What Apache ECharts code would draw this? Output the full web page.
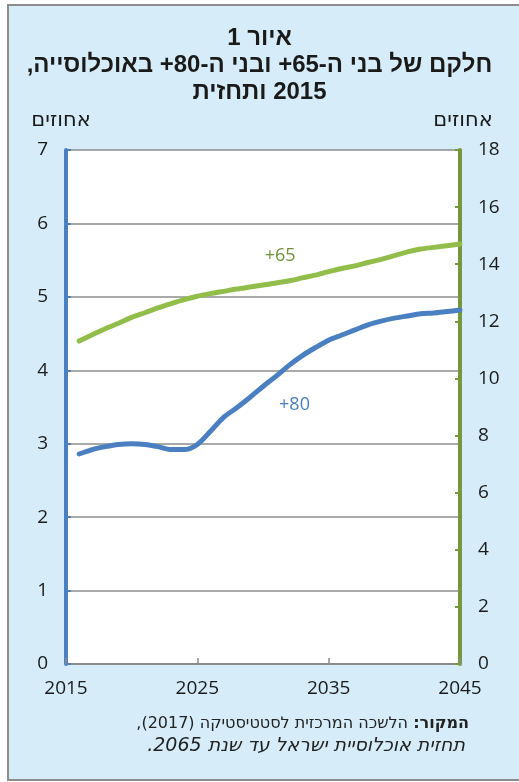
<!DOCTYPE html>
<html dir="rtl">
<head>
<meta charset="utf-8">
<script src="https://cdn.jsdelivr.net/npm/echarts@6/dist/echarts.min.js"></script>
<style>
  html, body { margin: 0; padding: 0; background: #ffffff; }
  #chart { width: 519px; height: 782px; }
</style>
</head>
<body>
<div id="chart"></div>
<script>
// שנים
const years = [2016, 2017, 2018, 2019, 2020, 2021, 2022, 2023, 2024, 2025,
  2026, 2027, 2028, 2029, 2030, 2031, 2032, 2033, 2034, 2035,
  2036, 2037, 2038, 2039, 2040, 2041, 2042, 2043, 2044, 2045];
// בני 80+ (ציר שמאלי, אחוזים)
const share80 = [2.86, 2.92, 2.96, 2.99, 3.00, 2.99, 2.96, 2.92, 2.92, 2.99,
  3.17, 3.36, 3.49, 3.63, 3.78, 3.92, 4.07, 4.20, 4.31, 4.41,
  4.48, 4.55, 4.62, 4.67, 4.71, 4.74, 4.77, 4.78, 4.80, 4.82];
// בני 65+ (ציר ימני, אחוזים)
const share65 = [11.31, 11.53, 11.74, 11.93, 12.14, 12.30, 12.47, 12.62, 12.76, 12.88,
  12.97, 13.05, 13.13, 13.20, 13.27, 13.34, 13.42, 13.52, 13.62, 13.74,
  13.85, 13.94, 14.06, 14.17, 14.30, 14.43, 14.53, 14.59, 14.65, 14.71];

const xTicks = [2015, 2025, 2035, 2045];
const leftTicks = [0, 1, 2, 3, 4, 5, 6, 7];
const rightTicks = [0, 2, 4, 6, 8, 10, 12, 14, 16, 18];

const titleLines = ["איור 1", "חלקם של בני ה-65+ ובני ה-80+ באוכלוסייה,", "2015 ותחזית"];
const axisName = "אחוזים";
const label65 = "65+";
const label80 = "80+";
const sourceBold = "המקור:";
const sourceLine1 = "הלשכה המרכזית לסטטיסטיקה (2017),";
const sourceLine2 = "תחזית אוכלוסיית ישראל עד שנת 2065.";

const blue = "#4a80c2";
const green = "#93bd4b";
const greenAxis = "#76973a";
const gridGray = "#8c8c8c";
const hebFont = "'Liberation Sans', 'DejaVu Sans', sans-serif";
const hebWide = "'DejaVu Sans', 'Liberation Sans', sans-serif";
const numFont = "'Open Sans', 'DejaVu Sans', sans-serif";

const chart = echarts.init(document.getElementById("chart"), null, { renderer: "canvas" });

const option = {
  backgroundColor: "#ffffff",
  animation: false,
  title: {
    text: titleLines.join("\n"),
    left: "center",
    top: 20,
    textStyle: {
      fontFamily: hebFont,
      fontWeight: "bold",
      fontSize: 24,
      lineHeight: 27,
      color: "#1a1a1a",
    },
  },
  graphic: [
    {
      type: "rect",
      z: -10,
      silent: true,
      shape: { x: 8, y: 5, width: 540, height: 775 },
      style: { fill: "#d6edf9", stroke: "#8c8c8c", lineWidth: 2 },
    },
    {
      type: "text",
      right: 50,
      top: 716,
      style: {
        text: "{n| " + sourceLine1 + "}{b|" + sourceBold + "}",
        rich: {
          n: { fontFamily: hebWide, fontSize: 16, fill: "#222" },
          b: { fontFamily: hebWide, fontSize: 16, fontWeight: "bold", fill: "#222" },
        },
      },
    },
    {
      type: "text",
      right: 54,
      top: 737,
      style: {
        text: sourceLine2,
        fontFamily: hebWide,
        fontSize: 19,
        fontStyle: "italic",
        fill: "#222",
      },
    },
  ],
  grid: {
    left: 66,
    right: 59,
    top: 150,
    bottom: 118,
    show: true,
    backgroundColor: "#ffffff",
    borderWidth: 0,
  },
  xAxis: {
    type: "value",
    min: xTicks[0],
    max: xTicks[xTicks.length - 1],
    interval: 10,
    axisLine: { show: true, lineStyle: { color: gridGray, width: 2 } },
    axisTick: { show: true, inside: true, length: 6, lineStyle: { color: gridGray, width: 1.5 } },
    splitLine: { show: false },
    axisLabel: {
      margin: 15,
      fontFamily: numFont,
      fontSize: 19,
      color: "#1a1a1a",
      formatter: (v) => String(v),
    },
  },
  yAxis: [
    {
      type: "value",
      position: "left",
      min: leftTicks[0],
      max: leftTicks[leftTicks.length - 1],
      interval: 1,
      name: axisName,
      nameLocation: "end",
      nameGap: 19,
      nameTextStyle: {
        fontFamily: hebWide,
        fontSize: 21,
        color: "#1a1a1a",
        padding: [0, 10, 0, 0],
      },
      axisLine: { show: true, lineStyle: { color: blue, width: 4 } },
      axisTick: { show: true, inside: true, length: 5, lineStyle: { color: blue, width: 2 } },
      splitLine: { show: true, lineStyle: { color: gridGray, width: 1.5 } },
      axisLabel: {
        margin: 18,
        fontFamily: numFont,
        fontSize: 19,
        color: "#1a1a1a",
      },
    },
    {
      type: "value",
      position: "right",
      min: rightTicks[0],
      max: rightTicks[rightTicks.length - 1],
      interval: 2,
      name: axisName,
      nameLocation: "end",
      nameGap: 19,
      nameTextStyle: {
        fontFamily: hebWide,
        fontSize: 21,
        color: "#1a1a1a",
        padding: [0, 0, 0, 6],
      },
      axisLine: { show: true, lineStyle: { color: greenAxis, width: 4 } },
      axisTick: { show: true, inside: true, length: 5, lineStyle: { color: greenAxis, width: 2 } },
      splitLine: { show: false },
      axisLabel: {
        margin: 18,
        fontFamily: numFont,
        fontSize: 19,
        color: "#1a1a1a",
      },
    },
  ],
  series: [
    {
      name: label65,
      type: "line",
      yAxisIndex: 1,
      data: years.map((y, i) => [y, share65[i]]),
      smooth: 0.3,
      showSymbol: false,
      lineStyle: { color: green, width: 5, cap: "round" },
      itemStyle: { color: green },
      z: 3,
      markPoint: {
        symbol: "circle",
        symbolSize: 0,
        silent: true,
        label: {
          show: true,
          position: "inside",
          formatter: label65,
          fontFamily: numFont,
          fontSize: 18,
          color: "#6f9035",
        },
        data: [{ coord: [2031.3, 14.29] }],
      },
    },
    {
      name: label80,
      type: "line",
      yAxisIndex: 0,
      data: years.map((y, i) => [y, share80[i]]),
      smooth: 0.3,
      showSymbol: false,
      lineStyle: { color: blue, width: 5, cap: "round" },
      itemStyle: { color: blue },
      z: 3,
      markPoint: {
        symbol: "circle",
        symbolSize: 0,
        silent: true,
        label: {
          show: true,
          position: "inside",
          formatter: label80,
          fontFamily: numFont,
          fontSize: 18,
          color: blue,
        },
        data: [{ coord: [2032.4, 3.53] }],
      },
    },
  ],
};

chart.setOption(option);
</script>
</body>
</html>
